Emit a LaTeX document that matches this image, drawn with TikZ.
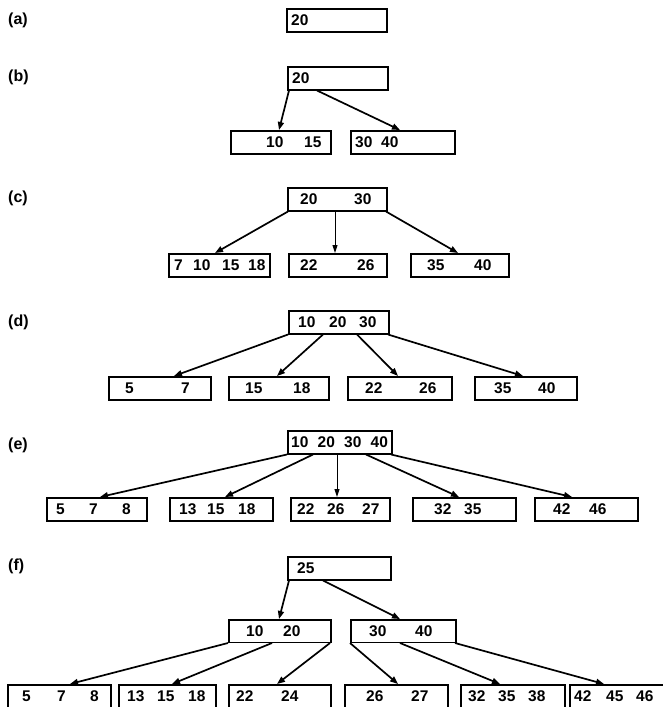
\documentclass[tikz,border=0pt]{standalone}
\usepackage{fontspec}
\setmainfont{Liberation Sans}
\usetikzlibrary{arrows.meta}
\tikzset{
  box/.style={draw, line width=1.5pt, minimum height=23pt, inner sep=0pt, anchor=north west},
  mbox/.style={box, minimum height=22.5pt},
  num/.style={anchor=base west, inner sep=0pt, font=\fontsize{15.5}{16}\selectfont\bfseries},
  lab/.style={anchor=west, inner sep=0pt, font=\fontsize{16}{18}\selectfont\bfseries},
  arr/.style={line width=1.7pt, -{Triangle[length=8pt,width=6pt]}},
  thinarr/.style={line width=1pt, -{Triangle[length=8pt,width=5pt]}}
}
\newcommand\nm[4]{\node[num] (#1) at (#2,#3) {#4};}
\begin{document}
\begin{tikzpicture}[x=1pt,y=-1pt]
\path[use as bounding box, fill=white] (0,0) rectangle (663,707);

% (a)
\node[lab] (la) at (8,20) {(a)};
\node[box, minimum width=100pt] (A) at (286,8) {};
\nm{at1}{291}{25}{20}

% (b)
\node[lab] (lb) at (8,77) {(b)};
\node[box, minimum width=100pt] (B) at (287,66) {};
\node[box, minimum width=100pt] (B1) at (230,130) {};
\node[box, minimum width=104pt] (B2) at (350,130) {};
\nm{bt1}{292}{83}{20}
\nm{b1t1}{266}{147}{10}
\nm{b1t2}{304}{147}{15}
\nm{b2t1}{355}{147}{30}
\nm{b2t2}{381}{147}{40}
\draw[arr] ([xshift=2pt]B.south west) -- ([xshift=49pt]B1.north west);
\draw[arr] ([xshift=30pt]B.south west) -- ([xshift=50pt]B2.north west);

% (c)
\node[lab] (lc) at (8,198) {(c)};
\node[box, minimum width=99pt] (C) at (287,187) {};
\node[box, minimum width=101pt] (C1) at (168,253) {};
\node[box, minimum width=98pt] (C2) at (288,253) {};
\node[box, minimum width=98pt] (C3) at (410,253) {};
\nm{ct1}{300}{204}{20}
\nm{ct2}{354}{204}{30}
\nm{c1t1}{174}{270}{7}
\nm{c1t2}{193}{270}{10}
\nm{c1t3}{222}{270}{15}
\nm{c1t4}{248}{270}{18}
\nm{c2t1}{300}{270}{22}
\nm{c2t2}{357}{270}{26}
\nm{c3t1}{427}{270}{35}
\nm{c3t2}{474}{270}{40}
\draw[arr] ([xshift=1pt]C.south west) -- ([xshift=47pt]C1.north west);
\draw[thinarr] ([xshift=48pt]C.south west) -- ([xshift=47pt]C2.north west);
\draw[arr] ([xshift=99pt]C.south west) -- ([xshift=48pt]C3.north west);

% (d)
\node[lab] (ld) at (8,322) {(d)};
\node[box, minimum width=100pt] (D) at (288,310) {};
\node[box, minimum width=102pt] (D1) at (108,376) {};
\node[box, minimum width=100pt] (D2) at (228,376) {};
\node[box, minimum width=104pt] (D3) at (347,376) {};
\node[box, minimum width=102pt] (D4) at (474,376) {};
\nm{dt1}{298}{327}{10}
\nm{dt2}{329}{327}{20}
\nm{dt3}{359}{327}{30}
\nm{d1t1}{125}{393}{5}
\nm{d1t2}{181}{393}{7}
\nm{d2t1}{245}{393}{15}
\nm{d2t2}{293}{393}{18}
\nm{d3t1}{365}{393}{22}
\nm{d3t2}{419}{393}{26}
\nm{d4t1}{494}{393}{35}
\nm{d4t2}{538}{393}{40}
\draw[arr] (D.south west) -- ([xshift=66pt]D1.north west);
\draw[arr] ([xshift=35pt]D.south west) -- ([xshift=49pt]D2.north west);
\draw[arr] ([xshift=69pt]D.south west) -- ([xshift=51pt]D3.north west);
\draw[arr] ([xshift=100pt]D.south west) -- ([xshift=49pt]D4.north west);

% (e)
\node[lab] (le) at (8,445) {(e)};
\node[box, minimum width=104pt] (E) at (287,430) {};
\node[box, minimum width=100pt] (E1) at (46,497) {};
\node[box, minimum width=103pt] (E2) at (169,497) {};
\node[box, minimum width=99pt] (E3) at (290,497) {};
\node[box, minimum width=103pt] (E4) at (412,497) {};
\node[box, minimum width=103pt] (E5) at (534,497) {};
\nm{et1}{291}{447}{10}
\nm{et2}{317.5}{447}{20}
\nm{et3}{344}{447}{30}
\nm{et4}{370.5}{447}{40}
\nm{e1t1}{56}{514}{5}
\nm{e1t2}{89}{514}{7}
\nm{e1t3}{122}{514}{8}
\nm{e2t1}{179}{514}{13}
\nm{e2t2}{207}{514}{15}
\nm{e2t3}{238}{514}{18}
\nm{e3t1}{297}{514}{22}
\nm{e3t2}{327}{514}{26}
\nm{e3t3}{362}{514}{27}
\nm{e4t1}{434}{514}{32}
\nm{e4t2}{464}{514}{35}
\nm{e5t1}{553}{514}{42}
\nm{e5t2}{589}{514}{46}
\draw[arr] (E.south west) -- ([xshift=54pt]E1.north west);
\draw[arr] ([xshift=26pt]E.south west) -- ([xshift=56pt]E2.north west);
\draw[thinarr] ([xshift=50pt]E.south west) -- ([xshift=47pt]E3.north west);
\draw[arr] ([xshift=79pt]E.south west) -- ([xshift=47pt]E4.north west);
\draw[arr] ([xshift=104pt]E.south west) -- ([xshift=38pt]E5.north west);

% (f)
\node[lab] (lf) at (8,566) {(f)};
\node[box, minimum width=103pt] (F) at (287,556) {};
\node[mbox, minimum width=102pt] (FL) at (228,619) {};
\node[mbox, minimum width=105pt] (FR) at (350,619) {};
\node[box, minimum width=103pt] (L1) at (7,684) {};
\node[box, minimum width=97pt] (L2) at (118,684) {};
\node[box, minimum width=102pt] (L3) at (228,684) {};
\node[box, minimum width=103pt] (L4) at (344,684) {};
\node[box, minimum width=104pt] (L5) at (460,684) {};
\node[box, minimum width=99pt] (L6) at (569,684) {};
\nm{ft1}{297}{573}{25}
\nm{flt1}{246}{636}{10}
\nm{flt2}{283}{636}{20}
\nm{frt1}{369}{636}{30}
\nm{frt2}{415}{636}{40}
\nm{l1t1}{22}{701}{5}
\nm{l1t2}{57}{701}{7}
\nm{l1t3}{90}{701}{8}
\nm{l2t1}{127}{701}{13}
\nm{l2t2}{157}{701}{15}
\nm{l2t3}{188}{701}{18}
\nm{l3t1}{236}{701}{22}
\nm{l3t2}{281}{701}{24}
\nm{l4t1}{366}{701}{26}
\nm{l4t2}{411}{701}{27}
\nm{l5t1}{468}{701}{32}
\nm{l5t2}{498}{701}{35}
\nm{l5t3}{528}{701}{38}
\nm{l6t1}{574}{701}{42}
\nm{l6t2}{606}{701}{45}
\nm{l6t3}{636}{701}{46}
\draw[arr] ([xshift=2pt]F.south west) -- ([xshift=51pt]FL.north west);
\draw[arr] ([xshift=36pt]F.south west) -- ([xshift=50pt]FR.north west);
\draw[arr] (FL.south west) -- ([xshift=63pt]L1.north west);
\draw[arr] ([xshift=44pt]FL.south west) -- ([xshift=54pt]L2.north west);
\draw[arr] ([xshift=102pt]FL.south west) -- ([xshift=49pt]L3.north west);
\draw[arr] (FR.south west) -- ([xshift=54pt]L4.north west);
\draw[arr] ([xshift=50pt]FR.south west) -- ([xshift=40pt]L5.north west);
\draw[arr] ([xshift=105pt]FR.south west) -- ([xshift=35pt]L6.north west);
\end{tikzpicture}
\end{document}
